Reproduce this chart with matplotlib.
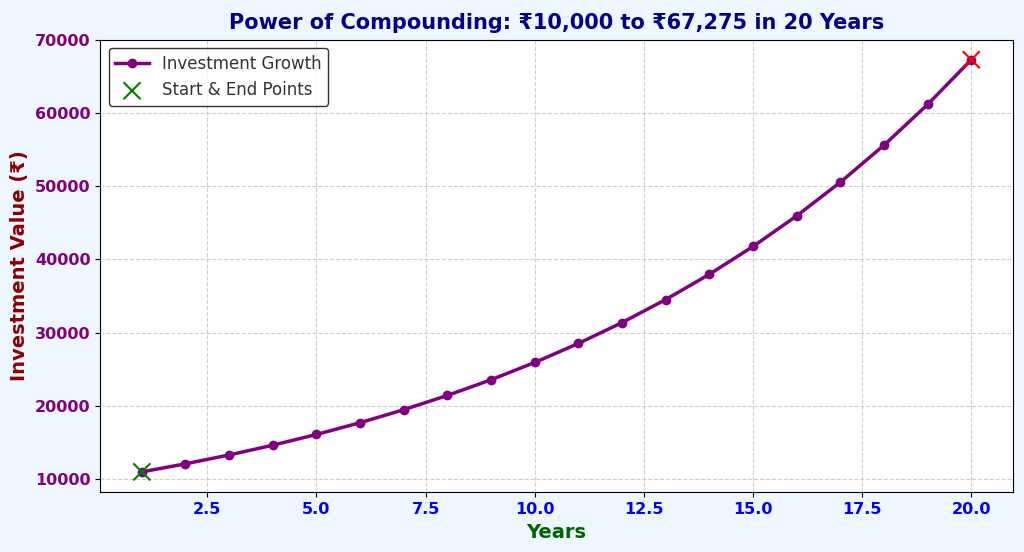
import matplotlib
matplotlib.use("Agg")
import matplotlib.pyplot as plt

years = list(range(1, 21))
values = [11000, 12100, 13310, 14641, 16105, 17716, 19487, 21436, 23579, 25937,
          28531, 31384, 34523, 37975, 41772, 45950, 50545, 55599, 61159, 67275]

fig = plt.figure(figsize=(10.24, 5.52), dpi=100, facecolor="#eef6ff")
ax = fig.add_axes([0.098, 0.108, 0.891, 0.82])
ax.plot(years, values, color="purple", marker="o", linewidth=2.5, markersize=6, label="Investment Growth")
ax.scatter([years[0], years[-1]], [values[0], values[-1]], color=["green", "red"], marker="x", s=150, zorder=5, label="Start & End Points")
ax.set_title("Power of Compounding: ₹10,000 to ₹67,275 in 20 Years", fontsize=15, fontweight="bold", color="darkblue", pad=8)
ax.set_xlabel("Years", fontsize=14, fontweight="bold", color="darkgreen")
ax.set_ylabel("Investment Value (₹)", fontsize=14, fontweight="bold", color="darkred")
ax.set_ylim(8200, 70000)
ax.set_yticks(range(10000, 70001, 10000))
for t in ax.get_xticklabels():
    t.set_color("blue"); t.set_fontweight("bold")
for t in ax.get_yticklabels():
    t.set_color("purple"); t.set_fontweight("bold")
ax.tick_params(labelsize=11.5)
ax.grid(True, linestyle="--", alpha=0.6)
leg = ax.legend(loc="upper left", fontsize=12, edgecolor="black", labelcolor="#333333")
plt.savefig("out.png", dpi=100, facecolor=fig.get_facecolor())
